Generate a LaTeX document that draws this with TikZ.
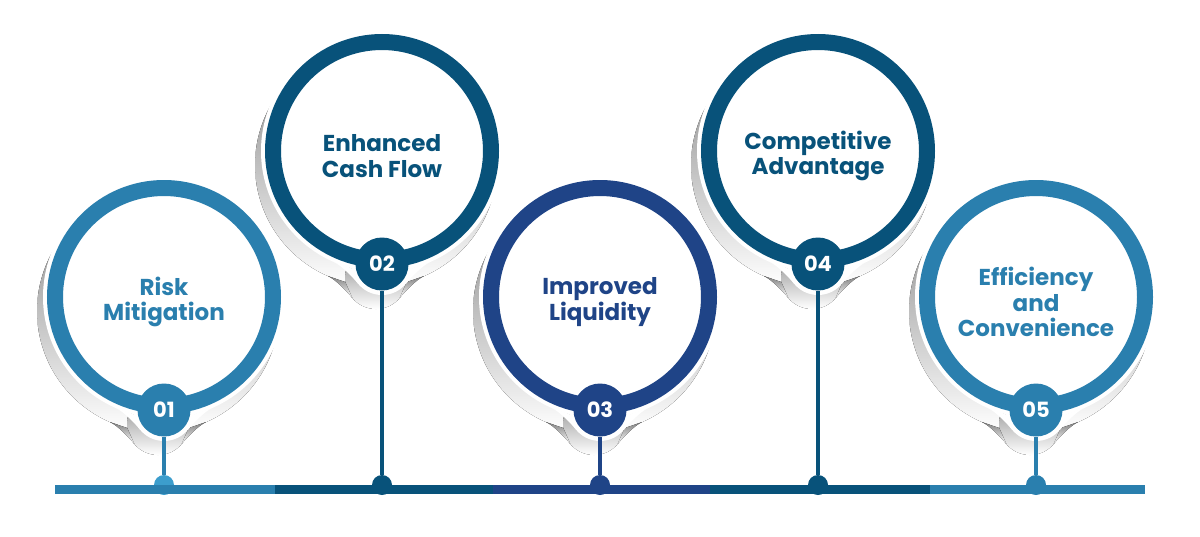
\documentclass[tikz,border=0pt]{standalone}
\usepackage{fontspec}
\newfontfamily\labelfont{Poppins}
\usetikzlibrary{positioning}

\definecolor{steel}{HTML}{2A7FAE}
\definecolor{navy}{HTML}{08527A}
\definecolor{royal}{HTML}{1F4487}
\definecolor{shade}{HTML}{DCD9D6}
\definecolor{bead}{HTML}{3C9DCC}

\tikzset{
  ring/.style={circle, draw=#1, line width=16pt, minimum size=218pt, inner sep=0pt},
  badge/.style={circle, fill=#1, minimum size=53pt, inner sep=0pt, text=white,
    font=\labelfont\bfseries\fontsize{21}{21}\selectfont},
  dome/.style={circle, fill=#1, minimum size=20pt, inner sep=0pt},
  stem/.style={draw=#1, line width=4pt},
  caption/.style={align=center, text=#1,
    font=\labelfont\bfseries\fontsize{23}{25.5}\selectfont}
}

% rim round a ring and its badge: colour, x, y
\newcommand\rimfill[3]{%
  \begin{scope}[shift={(#2,#3)}]
    \fill [#1] (0,0) circle (121pt);
    \fill [#1] (0,113) circle (31pt);
    \foreach \s in {-1,1}
      \fill [#1] (\s*48,111.1) .. controls (\s*40.7,114.2) and (\s*28.8,126.8)
        .. (\s*23.7,132.9) -- (\s*30.7,117) -- cycle;
  \end{scope}}

\begin{document}
\begin{tikzpicture}[x=1pt, y=-1pt]
\useasboundingbox (0,0) rectangle (1200,536);

% shadow and white rim
\foreach \x/\y in {164/297, 382/151, 600/297, 818/151, 1036/297} {
  \rimfill{shade}{\x-6}{\y+14}
  \rimfill{white}{\x}{\y}
}

% beads on the base line
\foreach \x/\c [count=\i] in {164/bead, 382/navy, 600/royal, 818/navy, 1036/steel}
  \node [dome=\c] (dome-\i) at (\x,485) {};

% base line
\fill [steel] (55,485) rectangle (275,494);
\fill [navy]  (275,485) rectangle (493,494);
\fill [royal] (493,485) rectangle (710,494);
\fill [navy]  (710,485) rectangle (930,494);
\fill [steel] (930,485) rectangle (1145,494);

\foreach \x/\y/\c/\n/\t [count=\i] in {
    164/297/steel/01/{Risk\\Mitigation},
    382/151/navy/02/{Enhanced\\Cash Flow},
    600/297/royal/03/{Improved\\Liquidity},
    818/151/navy/04/{Competitive\\Advantage},
    1036/297/steel/05/{Efficiency\\and\\Convenience}} {
  \node [ring=\c] (ring-\i) at (\x,\y) {};
  \node [badge=\c] (badge-\i) at (\x,\y+113) {\n};
  \node [caption=\c] (label-\i) at (\x,\y+5) {\t};
  \draw [stem=\c] (badge-\i) -- (dome-\i);
}

\end{tikzpicture}
\end{document}
